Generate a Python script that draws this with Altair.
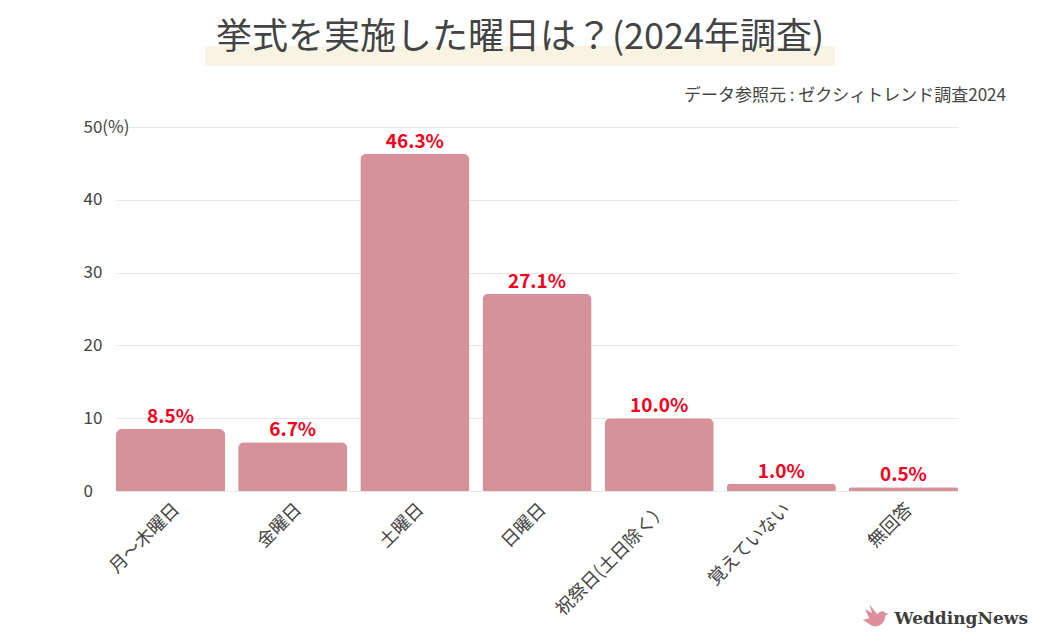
import altair as alt
import pandas as pd

categories = ["月〜木曜日", "金曜日", "土曜日", "日曜日", "祝祭日(土日除く）", "覚えていない", "無回答"]
values = [8.5, 6.7, 46.3, 27.1, 10.0, 1.0, 0.5]
y_ticks = [0, 10, 20, 30, 40, 50]

title_text = "挙式を実施した曜日は？(2024年調査)"
source_text = "データ参照元 : ゼクシィトレンド調査2024"
brand_text = "WeddingNews"

FONT = "Noto Sans CJK JP"
GRAY = "#444444"
BAR = "#d6919a"

df = pd.DataFrame({"cat": categories, "val": values})
df["label"] = [f"{v:.1f}%" for v in values]

x_enc = alt.X(
    "cat:N",
    sort=categories,
    scale=alt.Scale(paddingInner=0.107, paddingOuter=0),
    axis=alt.Axis(
        title=None, labelAngle=-45, labelFontSize=18, labelColor=GRAY, labelFont=FONT,
        domain=False, ticks=False, labelPadding=9,
    ),
)
y_enc = alt.Y(
    "val:Q",
    scale=alt.Scale(domain=[0, 50]),
    axis=alt.Axis(
        title=None, values=y_ticks, labelFontSize=17, labelColor=GRAY, labelFont=FONT,
        labelAlign="left", labelPadding=33, ticks=False, tickSize=0, domain=False,
        gridColor="#e8e8e8", gridWidth=1,
        labelExpr="datum.value == 50 ? '50(%)' : datum.label",
    ),
)

base = alt.Chart(df)
bars = base.mark_bar(color=BAR, cornerRadiusTopLeft=6, cornerRadiusTopRight=6).encode(x=x_enc, y=y_enc)
labels = base.mark_text(
    color="#f5001d", fontSize=19, fontWeight="bold", font=FONT, baseline="bottom", dy=-2
).encode(x=alt.X("cat:N", sort=categories), y="val:Q", text="label:N")

one = alt.Data(values=[{"k": 1}])
highlight = alt.Chart(one).mark_rect(color="#f8f4e3").encode(
    x=alt.value(89), x2=alt.value(719), y=alt.value(-81), y2=alt.value(-61)
)
title = alt.Chart(alt.Data(values=[{"t": title_text}])).mark_text(
    fontSize=36, font=FONT, color=GRAY, fontWeight="normal", align="center", baseline="middle"
).encode(x=alt.value(404), y=alt.value(-89), text="t:N")
source = alt.Chart(alt.Data(values=[{"t": source_text}])).mark_text(
    fontSize=17, font=FONT, color=GRAY, align="right", baseline="middle"
).encode(x=alt.value(890), y=alt.value(-31), text="t:N")
brand = alt.Chart(alt.Data(values=[{"t": brand_text}])).mark_text(
    fontSize=17, font="DejaVu Serif", fontWeight="bold", color="#3d3d3d", align="right", baseline="middle"
).encode(x=alt.value(912), y=alt.value(492), text="t:N")
dove_path = (
    "M-1,0.2 L-0.5,0.1 L-0.85,-0.6 L-0.3,-0.3 L-0.5,-0.95 L0.1,-0.2 "
    "C0.3,-0.5 0.6,-0.5 0.7,-0.3 L0.95,-0.25 L0.7,-0.1 C0.7,0.5 0.1,0.9 -0.4,0.6 Z"
)
dove = alt.Chart(one).mark_point(
    shape=dove_path, filled=True, color="#dc8f9a", opacity=1, size=700
).encode(x=alt.value(760), y=alt.value(490))

chart = alt.layer(bars, labels, highlight, title, source, brand, dove).properties(
    width=842, height=364,
    background="white",
    autosize=alt.AutoSizeParams(type="none"),
    padding={"left": 108, "top": 119, "right": 74, "bottom": 148},
).configure_view(stroke=None)

chart.save("out.html", embed_options={"renderer": "svg", "actions": False})
